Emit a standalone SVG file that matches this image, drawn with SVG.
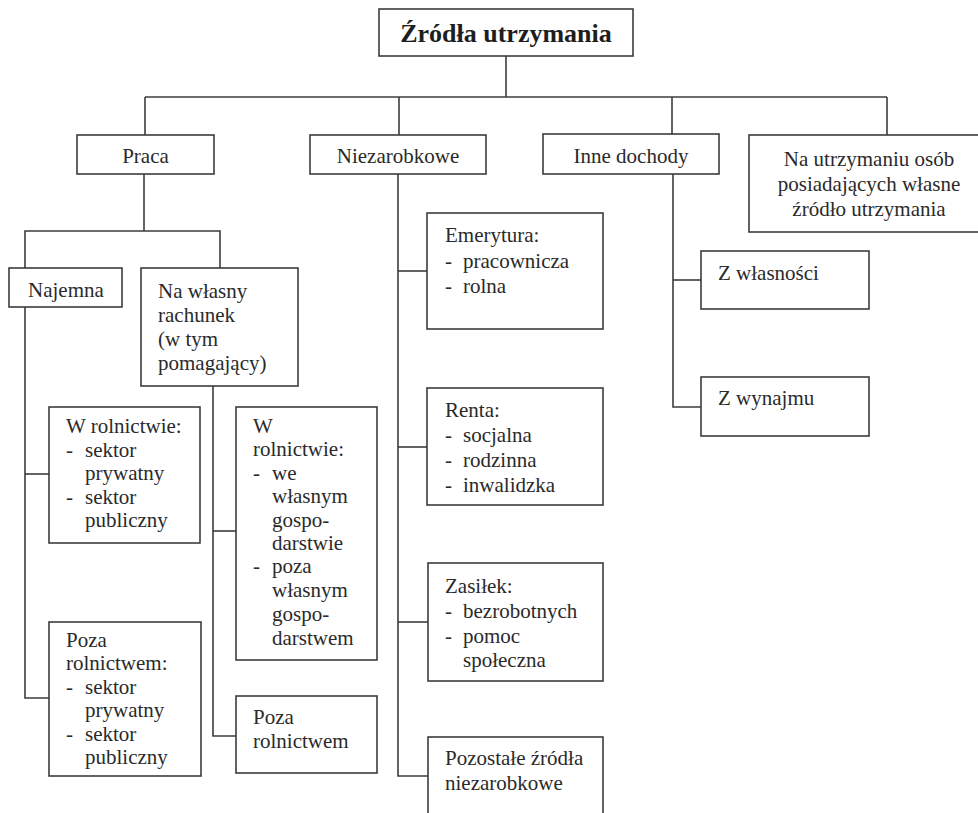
<svg xmlns="http://www.w3.org/2000/svg" width="978" height="813" viewBox="0 0 978 813" font-family="Liberation Serif, DejaVu Serif, serif">
<style>
rect{fill:#fff;stroke:#3c3c3c;stroke-width:1.6}
.c line,.c polyline{stroke:#3c3c3c;stroke-width:1.6;fill:none}
text{font-size:21px;fill:#2a2a2a}
.m{text-anchor:middle}
.t{font-size:26px;font-weight:bold;fill:#1e1e1e}
</style>
<rect x="0" y="0" width="978" height="813" style="stroke:none"/>
<g class="c" id="connectors">
<line x1="506" y1="56" x2="506" y2="97"/>
<line x1="145" y1="97" x2="887" y2="97"/>
<line x1="145" y1="97" x2="145" y2="135"/>
<line x1="399" y1="97" x2="399" y2="135"/>
<line x1="672" y1="97" x2="672" y2="134"/>
<line x1="887" y1="97" x2="887" y2="135"/>
<line x1="144" y1="174" x2="144" y2="231"/>
<polyline points="25,268 25,231 220,231 220,268"/>
<polyline points="25,307 25,698 49,698"/>
<line x1="25" y1="474" x2="49" y2="474"/>
<polyline points="213,386 213,736 236,736"/>
<line x1="213" y1="531" x2="236" y2="531"/>
<polyline points="398,174 398,776 428,776"/>
<line x1="398" y1="271" x2="427" y2="271"/>
<line x1="398" y1="447" x2="427" y2="447"/>
<line x1="398" y1="622" x2="428" y2="622"/>
<polyline points="673,174 673,407 701,407"/>
<line x1="673" y1="280" x2="701" y2="280"/>
</g>
<g id="root"><rect x="379" y="9" width="254" height="47"/><text class="t m" x="506" y="42">Źródła utrzymania</text></g>
<g id="praca"><rect x="77" y="135" width="137" height="39"/><text class="m" x="145.5" y="163">Praca</text></g>
<g id="niezarobkowe"><rect x="310" y="135" width="176" height="39"/><text class="m" x="398" y="163">Niezarobkowe</text></g>
<g id="inne"><rect x="543" y="134" width="176" height="40"/><text class="m" x="631" y="163">Inne dochody</text></g>
<g id="utrzymanie"><rect x="749" y="135" width="240" height="97"/><text class="m" x="869" y="166">Na utrzymaniu osób</text><text class="m" x="869" y="191">posiadających własne</text><text class="m" x="869" y="216">źródło utrzymania</text></g>
<g id="najemna"><rect x="9" y="268" width="113" height="39"/><text x="28" y="297">Najemna</text></g>
<g id="wlasny"><rect x="141" y="268" width="157" height="118"/><text x="158" y="298">Na własny</text><text x="158" y="322">rachunek</text><text x="158" y="346">(w tym</text><text x="158" y="370">pomagający)</text></g>
<g id="najemna-rol"><rect x="49" y="407" width="151" height="136"/><text x="66" y="433">W rolnictwie:</text><text x="66" y="457">-</text><text x="85" y="457">sektor</text><text x="85" y="480">prywatny</text><text x="66" y="504">-</text><text x="85" y="504">sektor</text><text x="85" y="527">publiczny</text></g>
<g id="najemna-poza"><rect x="49" y="622" width="152" height="154"/><text x="66" y="647">Poza</text><text x="66" y="670">rolnictwem:</text><text x="66" y="694">-</text><text x="85" y="694">sektor</text><text x="85" y="717">prywatny</text><text x="66" y="741">-</text><text x="85" y="741">sektor</text><text x="85" y="764">publiczny</text></g>
<g id="wlasny-rol"><rect x="236" y="407" width="141" height="253"/><text x="253" y="433">W</text><text x="253" y="456">rolnictwie:</text><text x="253" y="480">-</text><text x="272" y="480">we</text><text x="272" y="503">własnym</text><text x="272" y="527">gospo-</text><text x="272" y="550">darstwie</text><text x="253" y="573">-</text><text x="272" y="573">poza</text><text x="272" y="597">własnym</text><text x="272" y="621">gospo-</text><text x="272" y="645">darstwem</text></g>
<g id="wlasny-poza"><rect x="236" y="696" width="141" height="77"/><text x="253" y="724">Poza</text><text x="253" y="748">rolnictwem</text></g>
<g id="emerytura"><rect x="427" y="213" width="176" height="116"/><text x="445" y="242">Emerytura:</text><text x="445" y="268">-</text><text x="463" y="268">pracownicza</text><text x="445" y="293">-</text><text x="463" y="293">rolna</text></g>
<g id="renta"><rect x="427" y="388" width="176" height="117"/><text x="445" y="417">Renta:</text><text x="445" y="442">-</text><text x="463" y="442">socjalna</text><text x="445" y="467">-</text><text x="463" y="467">rodzinna</text><text x="445" y="492">-</text><text x="463" y="492">inwalidzka</text></g>
<g id="zasilek"><rect x="428" y="563" width="175" height="118"/><text x="445" y="593">Zasiłek:</text><text x="445" y="618">-</text><text x="463" y="618">bezrobotnych</text><text x="445" y="643">-</text><text x="463" y="643">pomoc</text><text x="463" y="667">społeczna</text></g>
<g id="pozostale"><rect x="428" y="737" width="175" height="90"/><text x="445" y="765">Pozostałe źródła</text><text x="445" y="790">niezarobkowe</text></g>
<g id="wlasnosci"><rect x="701" y="251" width="168" height="58"/><text x="718" y="280">Z własności</text></g>
<g id="wynajmu"><rect x="701" y="377" width="168" height="59"/><text x="718" y="405">Z wynajmu</text></g>
</svg>
